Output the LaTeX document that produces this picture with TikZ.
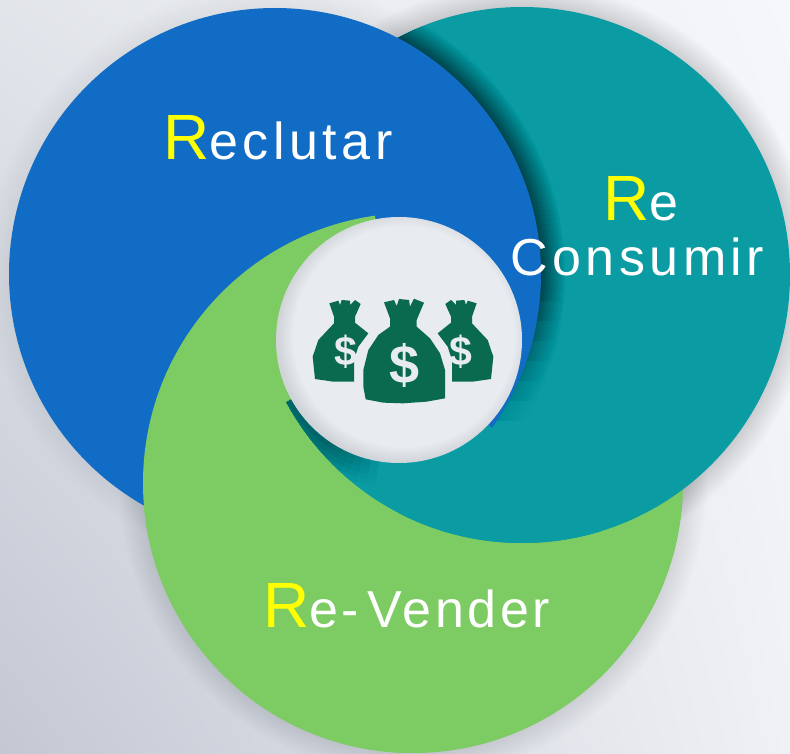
\documentclass[tikz,border=0pt]{standalone}
\usepackage{fontspec}
\setmainfont{Liberation Sans}
\usetikzlibrary{positioning,shadings}

\definecolor{bluecirc}{HTML}{106CC4}
\definecolor{tealcirc}{HTML}{0A9BA3}
\definecolor{greencirc}{HTML}{7DCB63}
\definecolor{bagcol}{HTML}{0A6A4E}
\definecolor{hubcol}{HTML}{E8EBF0}
\definecolor{wordcol}{HTML}{FFFF00}
\definecolor{backul}{HTML}{E2E5EA}
\definecolor{backll}{HTML}{C3C8D4}
\definecolor{backur}{HTML}{F6F7FA}
\definecolor{backlr}{HTML}{EFF1F4}

\tikzset{
	word/.style={text=white,inner sep=0pt,font=\fontsize{52}{56}\selectfont\addfontfeature{LetterSpace=8.7}},
	bag/.style={fill=bagcol,draw=none},
	sign/.style={text=hubcol,inner sep=0pt,font=\bfseries\fontsize{#1}{#1}\selectfont},
}

\newcommand{\capr}{\textcolor{wordcol}{\fontsize{64}{64}\selectfont R}}
\newcommand{\sidebag}{(178,280) -- (205,272) -- (210,285) -- (215,270) -- (240,272) -- (240,285) -- (255,270) -- (272,282) -- (255,320) -- (255,338) -- (295,370) -- (265,410) -- (252,450) -- (252,515) -- (190,515) -- (135,507) -- (128,440) -- (145,390) -- (192,340) -- (192,320) -- cycle}

\begin{document}
\begin{tikzpicture}[x=1pt,y=-1pt]

	\useasboundingbox (0,0) rectangle (790,754);
	\shade [lower left=backll, upper left=backul, upper right=backur, lower right=backlr] (0,0) rectangle (790,754);

	% drop shadows on the background
	\foreach \r in {2,4,...,24}{
		\fill [black, opacity=0.012] (522,275) circle (268+\r);
		\fill [black, opacity=0.004] (275,274) circle (266+\r);
		\fill [black, opacity=0.008] (413,483) circle (270+\r);
	}

	\fill [greencirc] (413,483) circle (270);
	\fill [tealcirc] (522,275) circle (268);

	% shadow of the blue one on the teal one, fading out going down
	\begin{scope}
		\clip (522,275) circle (268);
		\foreach \y in {300,320,...,420}{
			\begin{scope}
				\clip (0,0) rectangle (790,\y);
				\foreach \r in {2,4,...,24}{
					\fill [black, opacity=0.0024] (275,274) circle (266+\r);
				}
			\end{scope}
		}
	\end{scope}

	\fill [bluecirc] (275,274) circle (266);

	% green goes over blue and teal on the left of the hub
	\begin{scope}
		\clip (399,340) -- (331,-10) -- (-10,-10) -- (-10,764) -- (399,764) -- cycle;
		\fill [greencirc] (413,483) circle (270);
	\end{scope}

	% teal goes over green and blue under the hub
	\begin{scope}
		\clip (399,340) -- (-10,565) -- (-10,764) -- (800,764) -- (800,720) -- cycle;
		\fill [tealcirc] (522,275) circle (268);
	\end{scope}
	\begin{scope}
		\clip (522,275) circle (268);
		\foreach \x in {120,150,...,330}{
			\begin{scope}
				\clip (399,340) -- (-10,565) -- (-10,764) -- (\x,764) -- cycle;
				\foreach \r in {10,20,...,50}{
					\draw [black, opacity=0.006, line width=\r] (399,340) circle (123);
				}
			\end{scope}
		}
	\end{scope}

	% hub
	\fill [hubcol] (399,340) circle (123);
	\begin{scope}
		\clip (399,340) circle (123);
		\foreach \r in {4,8,...,32}{
			\draw [black, opacity=0.012, line width=\r] (404,337) circle (127);
		}
	\end{scope}

	% bags
	\begin{scope}[shift={(270,210)},x=1/3*1pt,y=-1/3*1pt]
		\fill [bag] \sidebag;
		\begin{scope}[shift={(798,0)},xscale=-1]
			\fill [bag] \sidebag;
		\end{scope}
		\fill [bag] (342,277) -- (372,270) -- (380,288) -- (387,267) -- (417,270) -- (420,290) -- (432,266) -- (462,278) -- (440,330) -- (440,350) -- (480,385) -- (510,430) -- (525,480) -- (525,565) -- (470,575) -- (400,580) -- (340,578) -- (287,568) -- (280,530) -- (280,480) -- (295,420) -- (325,375) -- (360,350) -- (360,325) -- cycle;
		\node (signl) [sign=41] at (228,425) {\$};
		\node (signr) [sign=41] at (572,425) {\$};
		\node (signc) [sign=54] at (403,466) {\$};
	\end{scope}

	\node (reclutar) [word,anchor=base west] at (163,160) {\capr eclutar};
	\node (re) [word,anchor=base west] at (603,221) {\capr e};
	\node (consumir) [word,anchor=base west] at (510,276) {Consumir};
	\node (revender) [word,anchor=base west] at (263,627) {\addfontfeature{LetterSpace=7}\capr e-\hspace{8pt}Vender};

\end{tikzpicture}
\end{document}
